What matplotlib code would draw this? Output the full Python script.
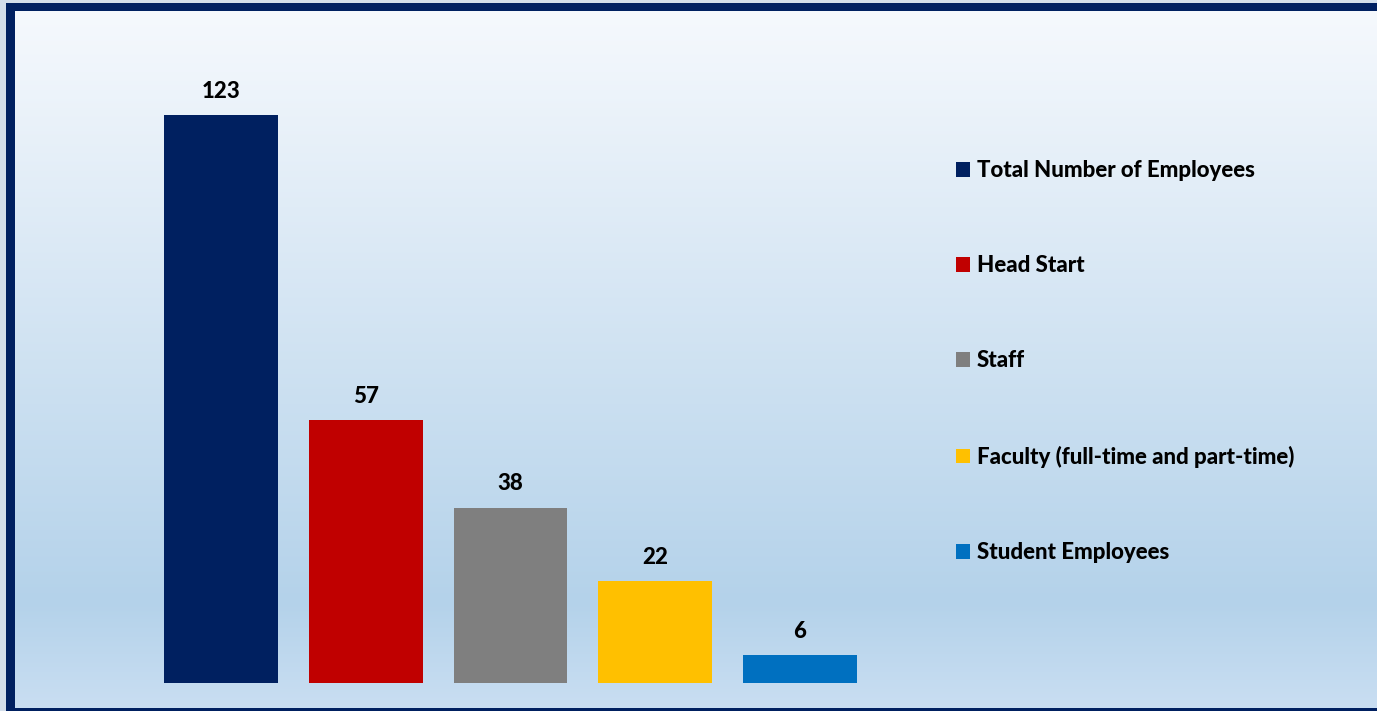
import numpy as np
import matplotlib.pyplot as plt
from matplotlib.colors import LinearSegmentedColormap
from matplotlib.patches import Rectangle

# data
categories = ['Total Number of Employees', 'Head Start', 'Staff',
              'Faculty (full-time and part-time)', 'Student Employees']
counts = [123, 57, 38, 22, 6]
colors = ['#002060', '#C00000', '#7F7F7F', '#FFC000', '#0070C0']

plt.rcParams['font.family'] = ['Lato', 'DejaVu Sans']

W, H = 1377, 711
fig = plt.figure(figsize=(W / 100, H / 100), dpi=100, facecolor='#D3DEEA')

# background: vertical gradient with navy frame on left, top and bottom
bg = fig.add_axes([0, 0, 1, 1], zorder=-1)
bg.axis('off')
grad = LinearSegmentedColormap.from_list(
    'bg', [(0, '#F6F9FD'), (0.85, '#B4D2EA'), (1, '#C9DEF2')])
bg.imshow(np.tile(np.linspace(0, 1, 256)[:, None], (1, 4)), cmap=grad,
          aspect='auto', interpolation='bilinear',
          extent=(10, W, 708, 8), zorder=1)
navy = '#002060'
bg.add_patch(Rectangle((6, 3), 9, H, color=navy, zorder=2, lw=0))
bg.add_patch(Rectangle((6, 3), W, 8, color=navy, zorder=2, lw=0))
bg.add_patch(Rectangle((6, 708), W, 10, color=navy, zorder=2, lw=0))
bg.set_xlim(0, W)
bg.set_ylim(H, 0)

# bars
ax = fig.add_axes([148.6 / W, 28 / H, 723.75 / W, 646.5 / H])
ax.patch.set_alpha(0)
x = np.arange(len(categories))
bars = ax.bar(x, counts, width=0.786, color=colors, label=categories)
ax.bar_label(bars, padding=9.5, fontsize=16, fontweight='black')
ax.set_xlim(-0.5, 4.5)
ax.set_ylim(0, 140)
ax.axis('off')

fig.legend(handles=list(bars), labels=categories, loc='center left',
           bbox_to_anchor=(956 / W, 1 - 361.5 / H), frameon=False,
           prop={'weight': 'black', 'size': 16},
           handlelength=0.65, handleheight=0.65, handletextpad=0.3,
           labelspacing=3.34, borderpad=0, borderaxespad=0)

fig.savefig('out.png', dpi=100, facecolor=fig.get_facecolor())
